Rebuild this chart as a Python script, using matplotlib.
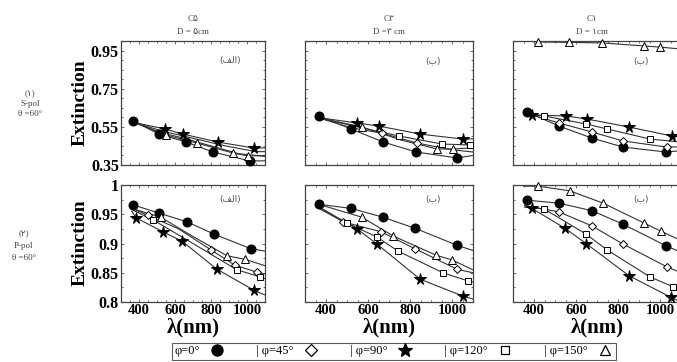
import matplotlib
matplotlib.use("Agg")
import matplotlib.pyplot as plt
from matplotlib.lines import Line2D
from matplotlib.ticker import MultipleLocator

plt.rcParams['font.family'] = ['Liberation Serif', 'DejaVu Sans']

# legend order: phi = 0, 45, 90, 120, 150
phi_labels = ["φ=0°", "| φ=45°", "| φ=90°", "| φ=120°", "| φ=150°"]
markers = ['o', 'D', '*', 's', '^']
faces = ['black', 'white', 'black', 'white', 'white']
msizes = [6.5, 4.5, 8.5, 4.5, 5.5]

col_titles = ["C۵\nD = ۵cm", "C۳\nD =۳ cm", "C۱\nD = ۱cm"]
panel_tags = ["(ﻒﻟﺍ)", "(ﺏ)", "(ﺏ)"]
row_labels = ["(۱)\nS-pol\nθ =60°", "(۲)\nP-pol\nθ =60°"]

# --- S-pol, each curve: wavelengths (nm), extinction, marker indices ---
s_c5 = [
    ([360, 367, 511, 661, 811, 1017, 1100], [0.585, 0.581, 0.512, 0.471, 0.418, 0.371, 0.372], [1, 2, 3, 4, 5]),
    ([360, 500, 650, 800, 950, 1100], [0.580, 0.525, 0.490, 0.450, 0.410, 0.395], []),
    ([360, 544, 644, 839, 1039, 1100], [0.575, 0.539, 0.512, 0.470, 0.439, 0.440], [1, 2, 3, 4]),
    ([360, 520, 700, 880, 1050, 1100], [0.578, 0.530, 0.490, 0.450, 0.420, 0.420], []),
    ([360, 550, 722, 922, 1006, 1100], [0.580, 0.507, 0.465, 0.413, 0.397, 0.400], [1, 2, 3, 4]),
]
s_c3 = [
    ([355, 367, 519, 671, 829, 1024, 1100], [0.610, 0.607, 0.539, 0.471, 0.418, 0.387, 0.400], [1, 2, 3, 4, 5]),
    ([355, 520, 667, 833, 1000, 1100], [0.600, 0.545, 0.517, 0.465, 0.430, 0.418], [2, 3]),
    ([355, 548, 652, 848, 1052, 1100], [0.600, 0.570, 0.554, 0.512, 0.486, 0.487], [1, 2, 3, 4]),
    ([355, 530, 748, 952, 1086, 1100], [0.600, 0.555, 0.502, 0.460, 0.455, 0.455], [2, 3, 4]),
    ([355, 571, 760, 929, 1005, 1100], [0.600, 0.549, 0.480, 0.434, 0.434, 0.440], [1, 3, 4]),
]
s_c1 = [
    ([355, 367, 519, 676, 824, 1029, 1100], [0.632, 0.628, 0.554, 0.491, 0.444, 0.418, 0.425], [1, 2, 3, 4, 5]),
    ([355, 519, 676, 824, 1033, 1100], [0.625, 0.570, 0.523, 0.476, 0.444, 0.445], [1, 2, 3, 4]),
    ([355, 390, 552, 652, 852, 1057, 1100], [0.620, 0.612, 0.607, 0.591, 0.549, 0.502, 0.495], [1, 2, 3, 4, 5]),
    ([355, 448, 648, 748, 952, 1100], [0.620, 0.607, 0.565, 0.539, 0.486, 0.470], [1, 2, 3, 4]),
    ([350, 419, 567, 724, 924, 1000, 1100], [1.000, 0.995, 0.993, 0.990, 0.974, 0.968, 0.958], [1, 2, 3, 4, 5]),
]

# --- P-pol ---
p_c5 = [
    ([360, 367, 511, 667, 817, 1022, 1100], [0.968, 0.966, 0.952, 0.937, 0.916, 0.891, 0.887], [1, 2, 3, 4, 5]),
    ([360, 450, 620, 800, 933, 1055, 1100], [0.960, 0.948, 0.925, 0.889, 0.863, 0.851, 0.848], [1, 3, 4, 5]),
    ([360, 383, 533, 639, 833, 1039, 1100], [0.955, 0.944, 0.920, 0.904, 0.856, 0.820, 0.812], [1, 2, 3, 4, 5]),
    ([360, 480, 700, 944, 1072, 1100], [0.958, 0.940, 0.900, 0.855, 0.843, 0.840], [1, 3, 4]),
    ([360, 520, 700, 889, 989, 1100], [0.960, 0.945, 0.912, 0.879, 0.873, 0.862], [1, 3, 4]),
]
p_c3 = [
    ([355, 367, 519, 671, 824, 1024, 1100], [0.970, 0.967, 0.960, 0.945, 0.926, 0.897, 0.888], [1, 2, 3, 4, 5]),
    ([355, 481, 662, 824, 1024, 1100], [0.965, 0.937, 0.920, 0.891, 0.856, 0.850], [1, 2, 3, 4]),
    ([355, 548, 643, 848, 1052, 1100], [0.962, 0.925, 0.899, 0.839, 0.810, 0.805], [1, 2, 3, 4]),
    ([355, 500, 643, 743, 957, 1076, 1100], [0.965, 0.935, 0.911, 0.887, 0.850, 0.836, 0.834], [1, 2, 3, 4, 5]),
    ([355, 571, 719, 924, 1000, 1100], [0.968, 0.945, 0.913, 0.880, 0.872, 0.855], [1, 2, 3, 4]),
]
p_c1 = [
    ([355, 367, 519, 676, 824, 1029, 1100], [0.976, 0.974, 0.969, 0.956, 0.933, 0.896, 0.885], [1, 2, 3, 4, 5]),
    ([355, 519, 676, 824, 1033, 1100], [0.965, 0.954, 0.930, 0.899, 0.860, 0.850], [1, 2, 3, 4]),
    ([355, 390, 548, 648, 852, 1052, 1100], [0.965, 0.960, 0.926, 0.900, 0.845, 0.808, 0.800], [1, 2, 3, 4, 5]),
    ([355, 448, 648, 748, 952, 1062, 1100], [0.962, 0.959, 0.916, 0.889, 0.843, 0.826, 0.815], [1, 2, 3, 4, 5]),
    ([350, 419, 571, 729, 924, 1005, 1100], [0.998, 0.998, 0.990, 0.969, 0.935, 0.921, 0.905], [1, 2, 3, 4, 5]),
]

rows = [[s_c5, s_c3, s_c1], [p_c5, p_c3, p_c1]]

W, H = 677, 362
fig = plt.figure(figsize=(W / 100, H / 100), dpi=100)

col_x = [(121, 144), (305, 168), (513, 168)]
row_y = [(41, 124), (185, 117)]
ylims = [(0.35, 1.0), (0.8, 1.0)]
yticks = [[0.35, 0.55, 0.75, 0.95], [0.8, 0.85, 0.9, 0.95, 1.0]]
yticklabels = [["0.35", "0.55", "0.75", "0.95"], ["0.8", "0.85", "0.9", "0.95", "1"]]
tag_y = [0.84, 0.88]

for r in range(2):
    top, h = row_y[r]
    for c in range(3):
        left, w = col_x[c]
        ax = fig.add_axes([left / W, 1 - (top + h) / H, w / W, h / H])
        for k, (wl, ext, idx) in enumerate(rows[r][c]):
            ax.plot(wl, ext, color='#333333', lw=0.8, zorder=2)
            if idx:
                ax.plot([wl[i] for i in idx], [ext[i] for i in idx], ls='none',
                        marker=markers[k], ms=msizes[k], mfc=faces[k],
                        mec='black', mew=0.7, zorder=3, clip_on=False)
        ax.set_xlim(300, 1100)
        ax.set_ylim(*ylims[r])
        ax.set_xticks([400, 600, 800, 1000])
        ax.xaxis.set_minor_locator(MultipleLocator(50))
        ax.set_yticks(yticks[r])
        ax.yaxis.set_minor_locator(MultipleLocator(0.05 if r == 0 else 0.025))
        ax.tick_params(which='both', direction='in', top=True, right=True,
                       length=2.5, width=0.6, color='#555555')
        ax.tick_params(which='minor', length=1.5)
        for s in ax.spines.values():
            s.set_color('#444444')
            s.set_linewidth(0.9)
        if c == 0:
            ax.set_yticklabels(yticklabels[r], fontsize=11.5, fontweight='bold')
        else:
            ax.set_yticklabels([])
        if r == 1:
            ax.set_xticklabels(["400", "600", "800", "1000"], fontsize=10.5, fontweight='bold')
            ax.set_xlabel("λ(nm)", fontsize=15, fontweight='bold', labelpad=0)
        else:
            ax.set_xticklabels([])
        ax.tick_params(axis='both', pad=1.5)
        ax.text(0.76, tag_y[r], panel_tags[c], transform=ax.transAxes, fontsize=6.5,
                color='#555555', ha='center', va='center',
                family=['DejaVu Sans'])
        if r == 0:
            ax.text(0.47 if c == 2 else 0.5, 1.04, col_titles[c], transform=ax.transAxes,
                    fontsize=6.5, color='#444444', ha='center', va='bottom',
                    linespacing=1.8, family=['Liberation Serif', 'DejaVu Sans'])

fig.text(80 / W, 1 - 103 / H, "Extinction", rotation=90, fontsize=14,
         fontweight='bold', ha='center', va='center')
fig.text(80 / W, 1 - 243 / H, "Extinction", rotation=90, fontsize=14,
         fontweight='bold', ha='center', va='center')
fig.text(30 / W, 1 - 104 / H, row_labels[0], fontsize=6.5, color='#444444',
         ha='center', va='center', linespacing=1.3)
fig.text(24 / W, 1 - 246 / H, row_labels[1], fontsize=6.5, color='#444444',
         ha='center', va='center', linespacing=1.6)

handles = [Line2D([], [], ls='none', marker=markers[k], ms=msizes[k] + 1.5,
                  mfc=faces[k], mec='black', mew=0.9) for k in range(5)]
leg = fig.legend(handles, phi_labels, loc='center', bbox_to_anchor=(394 / W, 1 - 351 / H),
                 ncol=5, markerfirst=False, frameon=True, fancybox=False,
                 fontsize=9, handlelength=1.4, handletextpad=0.7, columnspacing=2.4,
                 borderpad=0.2, borderaxespad=0)
leg.get_frame().set_edgecolor('#333333')
leg.get_frame().set_linewidth(0.8)

fig.savefig("out.png", dpi=100)
